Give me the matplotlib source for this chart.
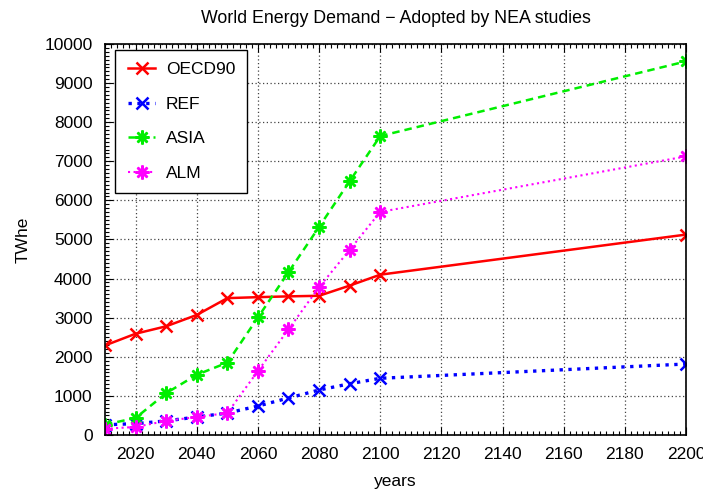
import numpy as np
import matplotlib
matplotlib.use("Agg")
import matplotlib.pyplot as plt
from matplotlib.ticker import MultipleLocator

plt.rcParams['font.family'] = ['Liberation Sans', 'DejaVu Sans']

years = [2010, 2020, 2030, 2040, 2050, 2060, 2070, 2080, 2090, 2100, 2200]
oecd90 = [2290, 2590, 2780, 3070, 3500, 3525, 3545, 3560, 3820, 4100, 5125]
ref = [260, 290, 360, 460, 560, 740, 945, 1150, 1310, 1450, 1815]
asia = [265, 435, 1070, 1540, 1850, 3005, 4165, 5320, 6490, 7645, 9555]
alm = [160, 205, 360, 460, 560, 1635, 2700, 3780, 4735, 5705, 7125]

xticks = list(range(2020, 2201, 20))
yticks = list(range(0, 10001, 1000))

fig = plt.figure(figsize=(7.03, 4.91), dpi=100)
ax = fig.add_axes([0.1494, 0.1141, 0.8264, 0.7963])

star = (8, 2, 0)  # eight-armed asterisk: '+' and 'x' together
ax.plot(years, oecd90, '-', color='#ff0000', lw=1.8, marker='x', ms=9, mew=1.8, label='OECD90')
ax.plot(years, ref, ':', color='#0000ff', lw=2.4, marker='x', ms=9, mew=1.8, label='REF')
ax.plot(years, asia, '--', color='#00ee00', lw=1.8, marker=star, ms=10, mew=1.8,
        dashes=(3, 2), label='ASIA')
ax.plot(years, alm, ':', color='#ff00ff', lw=1.5, marker=star, ms=10, mew=1.8, label='ALM')

ax.set_xlim(2010, 2200)
ax.set_ylim(0, 10000)
ax.set_xticks(xticks)
ax.set_yticks(yticks)
ax.xaxis.set_minor_locator(MultipleLocator(2))
ax.yaxis.set_minor_locator(MultipleLocator(100))
ax.tick_params(which='both', direction='in', labelsize=12.5, top=True, right=False, width=0.8)
ax.tick_params(which='major', length=6)
ax.tick_params(which='minor', length=3)
ax.tick_params(axis='x', pad=9)
ax.tick_params(axis='y', pad=9)
ax.grid(True, which='major', linestyle=(0, (1, 2)), color='#444444', lw=0.9)
for s in ax.spines.values():
    s.set_linewidth(1.2)

ax.set_title('World Energy Demand \u2212 Adopted by NEA studies', fontsize=12.8, pad=15)
ax.set_xlabel('years', fontsize=12.5, labelpad=8)
ax.set_ylabel('TWhe', fontsize=12.5, labelpad=10)

leg = ax.legend(loc='upper left', bbox_to_anchor=(0.018, 0.985), borderaxespad=0,
                fontsize=12.5, frameon=True, fancybox=False, edgecolor='black',
                framealpha=1, handlelength=1.6, handletextpad=0.6,
                labelspacing=1.12, borderpad=0.7)
leg.get_frame().set_linewidth(1.0)

fig.savefig('out.png', dpi=100)
